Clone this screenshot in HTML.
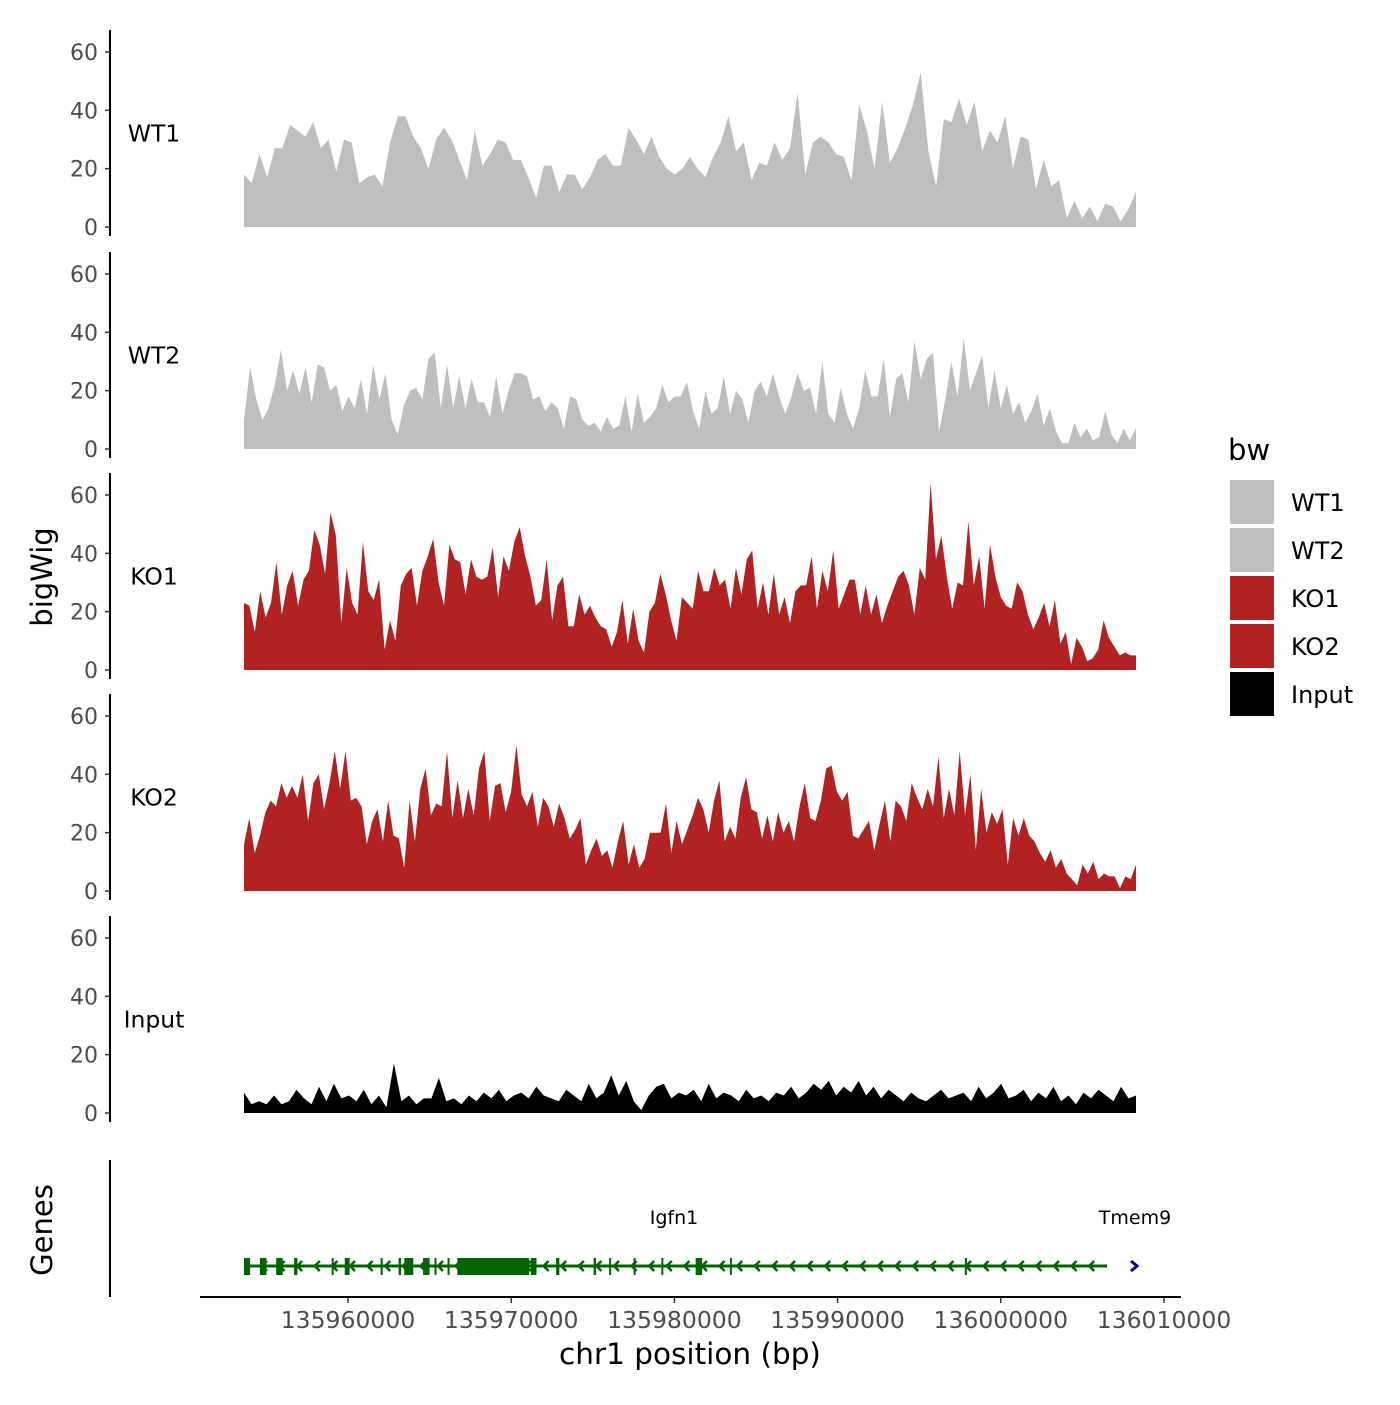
<!DOCTYPE html>
<html><head><meta charset="utf-8"><style>
html,body{margin:0;padding:0;background:#fff;}
svg text{font-family:"DejaVu Sans","Liberation Sans",sans-serif;}
</style></head><body>
<svg id="chart" width="1400" height="1400" viewBox="0 0 1400 1400" xmlns="http://www.w3.org/2000/svg">
<rect width="1400" height="1400" fill="#fff"/>
</svg>
<script>
const bpStart = 135953627, bpEnd = 136008284;
const trackNames = ["WT1","WT2","KO1","KO2","Input"];
const trackColors = ["#bebebe","#bebebe","#b22222","#b22222","#000000"];
const yTicks = [0,20,40,60];
const xTicks = [135960000,135970000,135980000,135990000,136000000,136010000];
const xTickLabels = ["135960000","135970000","135980000","135990000","136000000","136010000"];
const wt1 = [18,15,25,17,27,27,35,33,31,36,27,30,19,30,29,15,17,18,14,29,38,38,31,27,20,30,34,30,23,16,33,21,25,30,29,23,23,17,10,21,21,12,18,18,13,17,23,25,21,21,34,30,25,31,24,20,18,
 20,24,20,17,24,29,38,26,29,16,22,21,29,23,27,46,18,29,31,29,25,24,16,42,33,20,43,22,27,34,42,53,26,14,37,36,44,35,43,26,33,29,38,20,31,30,13,23,14,16,3,9,3,7,2,8,7,2,6,12];
const wt2 = [10,28,17,10,14,22,34,20,27,19,28,16,29,28,20,22,13,18,14,24,12,29,17,26,10,5,15,20,21,17,31,33,14,29,14,25,14,24,16,16,11,25,12,20,26,26,25,17,18,13,16,14,7,18,17,10,8,9,6,11,7,8,18,6,19,9,11,14,22,16,18,18,23,13,7,20,12,14,25,12,20,17,9,20,23,18,26,18,12,18,26,20,21,12,30,12,9,21,12,7,14,27,18,18,31,11,24,26,16,37,24,31,33,6,17,30,18,38,20,26,32,14,27,14,22,12,16,9,13,19,8,14,6,2,2,9,4,7,3,4,13,5,2,7,3,7];
const ko1 = [23,22,13,27,18,23,37,19,29,34,22,31,34,48,43,33,54,46,16,35,23,19,44,27,24,31,7,17,10,29,33,35,22,34,39,45,30,22,43,38,37,26,38,32,31,32,42,25,39,34,44,49,39,32,22,24,38,17,29,32,15,15,26,19,22,18,15,14,8,13,24,9,21,10,6,20,23,33,26,17,10,25,23,21,34,27,27,35,29,31,21,35,26,38,41,21,30,19,33,19,25,16,27,29,29,39,21,34,27,41,21,26,31,31,19,29,19,26,16,22,27,32,34,29,19,35,31,64,38,46,32,21,30,29,51,29,39,21,43,32,25,22,21,30,27,19,14,18,23,15,24,9,13,2,11,8,3,4,7,17,11,8,5,6,5,5];
const ko2 = [16,25,13,19,27,31,29,37,32,36,32,40,24,37,40,28,37,48,35,48,31,32,29,16,24,28,17,31,19,18,8,31,17,35,42,26,30,29,48,25,38,25,35,26,42,48,24,36,37,27,34,50,33,29,34,22,32,29,22,30,25,18,21,25,9,14,18,12,14,8,17,24,9,16,8,11,20,20,20,30,13,24,16,21,26,32,28,20,31,38,17,22,18,32,39,28,27,18,26,17,27,20,24,17,29,37,25,24,31,42,43,34,31,34,19,18,21,24,14,23,31,17,31,29,24,37,32,28,35,29,46,25,35,26,48,26,40,14,35,20,27,23,28,9,25,19,25,19,17,13,10,14,8,11,6,4,2,9,6,10,4,6,5,5,1,5,4,9];
const inputVals = [7,3,4,3,6,3,4,8,5,3,9,4,10,5,6,4,8,3,6,2,17,4,6,3,5,5,12,4,5,3,6,4,7,5,8,4,6,7,5,9,6,5,4,8,6,4,10,5,7,13,6,11,4,1,6,9,10,5,7,6,8,4,10,5,7,6,4,8,5,6,4,7,6,9,5,7,10,8,11,6,9,7,11,6,9,5,8,6,4,7,5,4,6,8,5,6,7,4,9,5,7,10,5,6,8,4,7,5,9,4,6,3,7,5,8,6,4,9,5,6];
const trackData = [wt1, wt2, ko1, ko2, inputVals];
const exonStarts = [135953627,135954600,135955600,135956700,135959000,135959800,135962000,135963100,135963450,135964600,135965300,135966100,135966700,135971200,135972750,135975050,135976000,135977500,135979200,135981300,135983400,135997800];
const exonEnds   = [135954000,135955000,135956000,135956900,135959100,135960100,135962100,135963250,135964000,135965000,135965400,135966200,135971100,135971550,135972950,135975200,135976100,135977600,135979300,135981700,135983500,135997900];

const svg = document.getElementById('chart');
const NS = "http://www.w3.org/2000/svg";
function mk(tag, attrs, parent){const e=document.createElementNS(NS,tag);for(const k in attrs)e.setAttribute(k,attrs[k]);(parent||svg).appendChild(e);return e;}
function xScale(bp){return 348 + (bp-135960000)*0.01632;}
const panelBase = [227,449,670,891,1113];
const pxPerUnit = 2.917;
function yScale(panel,v){return panelBase[panel]-v*pxPerUnit;}

trackNames.forEach((name,p)=>{
  const g = mk('g',{});
  
  
  const vals = trackData[p];
  const n = vals.length;
  let d = 'M'+xScale(bpStart)+','+panelBase[p];
  vals.forEach((v,i)=>{const bp=bpStart+i*(bpEnd-bpStart)/(n-1);d+=' L'+xScale(bp).toFixed(1)+','+yScale(p,v).toFixed(1);});
  d += ' L'+xScale(bpEnd)+','+panelBase[p]+' Z';
  const area = mk('path',{d:d,fill:trackColors[p]},g);
  
  
  const ax = mk('line',{x1:110,x2:110,y1:yScale(p,60)-22,y2:panelBase[p]+9,stroke:'#000','stroke-width':2},g);
  
  
  yTicks.forEach(t=>{
    const y=yScale(p,t);
    mk('line',{x1:105,x2:110,y1:y,y2:y,stroke:'#333','stroke-width':1.5},g);
    const tl = mk('text',{x:98,y:y+8,'text-anchor':'end','font-size':'22','fill':'#4d4d4d'},g);
    tl.textContent=t;
    
    
  });
  const lab = mk('text',{x:154,y:yScale(p,32)+8,'text-anchor':'middle','font-size':'23.5','fill':'#000'},g);
  lab.textContent=name;
  
  
});

const yt = mk('text',{x:0,y:0,transform:'translate(52,577) rotate(-90)','text-anchor':'middle','font-size':'29','fill':'#000'});
yt.textContent='bigWig';


const gt = mk('text',{x:0,y:0,transform:'translate(52,1230) rotate(-90)','text-anchor':'middle','font-size':'29','fill':'#000'});
gt.textContent='Genes';



const gg = mk('g',{});


mk('line',{x1:110,x2:110,y1:1160,y2:1297,stroke:'#000','stroke-width':2},gg);
mk('line',{x1:xScale(bpStart),x2:1107,y1:1266,y2:1266,stroke:'#006400','stroke-width':3},gg);
exonStarts.forEach((s,i)=>{
  const x1=xScale(s), x2=xScale(exonEnds[i]);
  const r = mk('rect',{x:x1,y:1258,width:Math.max(2,x2-x1),height:17,fill:'#006400'},gg);
  
  
});
for(let x=263;x<1105;x+=17.6){
  mk('path',{d:'M'+(x+4)+',1261 L'+(x-1)+',1266 L'+(x+4)+',1271',fill:'none',stroke:'#006400','stroke-width':2.5},gg);
}
mk('path',{d:'M1131,1261 L1137,1266 L1131,1271',fill:'none',stroke:'#00008b','stroke-width':3},gg);
const g1 = mk('text',{x:674,y:1224,'text-anchor':'middle','font-size':'19','fill':'#000'},gg);
g1.textContent='Igfn1';


const g2 = mk('text',{x:1135,y:1224,'text-anchor':'middle','font-size':'19','fill':'#000'},gg);
g2.textContent='Tmem9';



const xa = mk('line',{x1:200,x2:1181,y1:1297,y2:1297,stroke:'#000','stroke-width':2});


xTicks.forEach((t,i)=>{
  const x=xScale(t);
  mk('line',{x1:x,x2:x,y1:1297,y2:1303,stroke:'#333','stroke-width':1.5});
  const tl=mk('text',{x:x,y:1328,'text-anchor':'middle','font-size':'23.5','fill':'#4d4d4d'});
  tl.textContent=xTickLabels[i];
  
  
});
const xt = mk('text',{x:690,y:1364,'text-anchor':'middle','font-size':'29.5','fill':'#000'});
xt.textContent='chr1 position (bp)';



const lg = mk('g',{});


const lt = mk('text',{x:1228,y:460,'font-size':'29','fill':'#000'},lg);
lt.textContent='bw';


trackNames.forEach((n,i)=>{
  const y=480+i*48;
  const k=mk('rect',{x:1230,y:y,width:44,height:44,fill:trackColors[i]},lg);
  
  
  const t=mk('text',{x:1291,y:y+31,'font-size':'24','fill':'#000'},lg);
  t.textContent=n;
  
  
});
</script>
</body></html>
